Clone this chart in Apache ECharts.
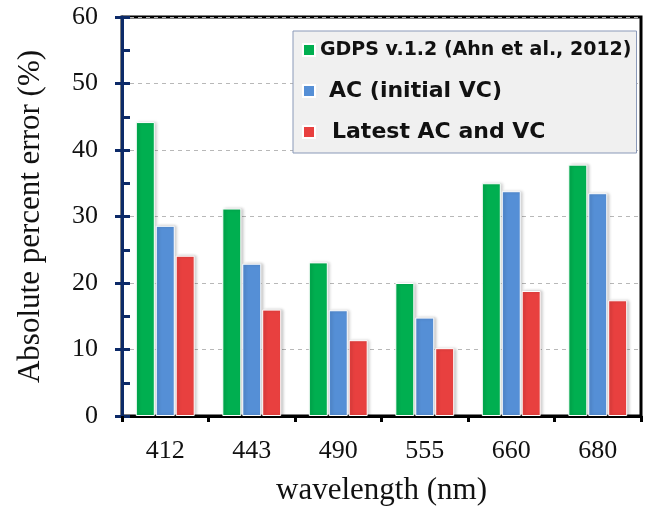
<!DOCTYPE html>
<html>
<head>
<meta charset="utf-8">
<script src="https://cdn.jsdelivr.net/npm/echarts@6/dist/echarts.min.js"></script>
<style>
  html, body { margin: 0; padding: 0; background: #fff; }
  #chart { width: 652px; height: 507px; }
</style>
</head>
<body>
<div id="chart"></div>
<script>
// Absolute percent error by wavelength for three calibration approaches
const wavelengths = ['412', '443', '490', '555', '660', '680'];
const seriesNames = ['GDPS v.1.2 (Ahn et al., 2012)', 'AC (initial VC)', 'Latest AC and VC'];
const gdps = [44.2, 31.2, 23.1, 20.0, 35.0, 37.8];
const acInitial = [28.6, 22.9, 15.9, 14.8, 33.8, 33.5];
const latest = [24.1, 16.0, 11.4, 10.2, 18.8, 17.4];
const yTicks = { min: 0, max: 60, interval: 10 };

const colors = ['#00af50', '#558fd6', '#e8403f'];
const navy = '#0c2a68';
const serif = '"Liberation Serif", "Times New Roman", serif';
const sans = '"DejaVu Sans", "Noto Sans", sans-serif';

const barStyle = (c) => ({
  color: c,
  borderColor: '#ffffff',
  borderWidth: 1,
  shadowColor: 'rgba(0,0,0,0.22)',
  shadowBlur: 3,
  shadowOffsetX: 2
});

const chart = echarts.init(document.getElementById('chart'), null, { renderer: 'canvas' });

chart.setOption({
  animation: false,
  backgroundColor: '#ffffff',
  grid: {
    left: 122, top: 17, right: 11, bottom: 91,
    containLabel: false,
    outerBoundsMode: 'none',
    show: true,
    borderColor: '#000000',
    borderWidth: 3,
    backgroundColor: 'transparent'
  },
  legend: {
    orient: 'vertical',
    left: 293,
    top: 31,
    padding: [8, 5, 10, 9],
    itemGap: 19,
    itemWidth: 12,
    itemHeight: 12,
    backgroundColor: '#f0f0f0',
    borderColor: '#8a99b8',
    borderWidth: 1,
    borderRadius: 0,
    icon: 'rect',
    textStyle: {
      fontFamily: sans,
      fontWeight: 'bold',
      fontSize: 22,
      color: '#111111',
      lineHeight: 22
    },
    data: [
      { name: seriesNames[0], textStyle: { fontSize: 19 } },
      { name: seriesNames[1], textStyle: { padding: [0, 0, 0, 9] } },
      { name: seriesNames[2], textStyle: { padding: [0, 0, 0, 12] } }
    ]
  },
  xAxis: {
    type: 'category',
    data: wavelengths,
    boundaryGap: true,
    name: 'wavelength (nm)',
    nameLocation: 'middle',
    nameGap: 59,
    nameTextStyle: { fontFamily: serif, fontSize: 31, color: '#111111' },
    axisLine: { lineStyle: { color: '#000000', width: 3 } },
    axisTick: { show: true, length: 6, lineStyle: { color: '#000000', width: 3 } },
    axisLabel: { fontFamily: serif, fontSize: 26, color: '#111111', margin: 22 },
    splitLine: { show: false }
  },
  yAxis: [
    {
      type: 'value',
      min: yTicks.min, max: yTicks.max, interval: yTicks.interval,
      name: 'Absolute percent error (%)',
      nameLocation: 'middle',
      nameRotate: 90,
      nameGap: 76,
      nameTextStyle: { fontFamily: serif, fontSize: 31, color: '#111111' },
      axisLine: { show: true, lineStyle: { color: navy, width: 3 } },
      axisTick: { show: true, inside: true, length: 8, lineStyle: { color: navy, width: 3 } },
      minorTick: { show: true, splitNumber: 2, length: 8, lineStyle: { color: navy, width: 3 } },
      axisLabel: { fontFamily: serif, fontSize: 26, color: '#111111', margin: 24 },
      splitLine: { show: true, lineStyle: { color: '#b8b8b8', type: [4, 4], width: 1 } }
    },
    {
      // outer half of the major ticks so they cross the axis line
      type: 'value',
      position: 'left',
      min: yTicks.min, max: yTicks.max, interval: yTicks.interval,
      axisLine: { show: false },
      axisTick: { show: true, inside: false, length: 7, lineStyle: { color: navy, width: 3 } },
      axisLabel: { show: false },
      splitLine: { show: false }
    }
  ],
  series: [
    { name: seriesNames[0], type: 'bar', data: gdps, barWidth: 19, barGap: '5%', itemStyle: barStyle(colors[0]) },
    { name: seriesNames[1], type: 'bar', data: acInitial, barWidth: 19, barGap: '5%', itemStyle: barStyle(colors[1]) },
    { name: seriesNames[2], type: 'bar', data: latest, barWidth: 19, barGap: '5%', itemStyle: barStyle(colors[2]) }
  ]
});
</script>
</body>
</html>
